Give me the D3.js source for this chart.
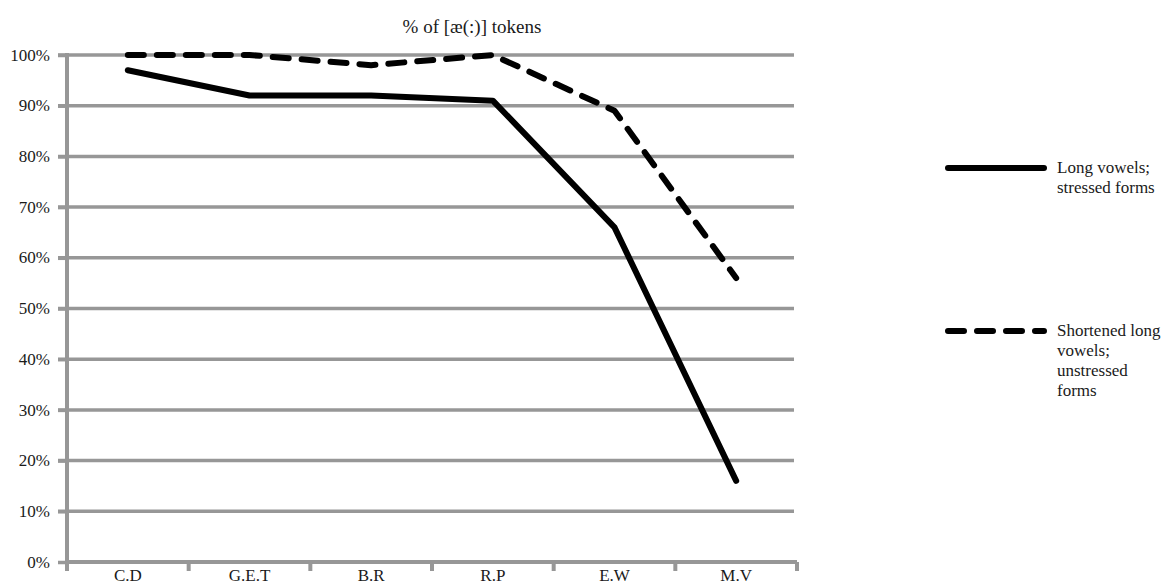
<!DOCTYPE html>
<html><head><meta charset="utf-8">
<script src="https://cdn.jsdelivr.net/npm/d3@7"></script>
<style>body{margin:0;background:#fff}svg{display:block}text{font-family:"Liberation Serif","DejaVu Serif",serif}</style>
</head><body><svg id="c" width="1164" height="586"></svg>
<script>
const categories = ["C.D","G.E.T","B.R","R.P","E.W","M.V"];
const longStressed = [97, 92, 92, 91, 66, 16];
const shortUnstressed = [100, 100, 98, 100, 89, 56];
const yTicks = [0,10,20,30,40,50,60,70,80,90,100];
const seriesNames = [["Long vowels;","stressed forms"],["Shortened long","vowels;","unstressed","forms"]];

const svg = d3.select("#c");
const x = d3.scaleBand().domain(categories).range([67, 797]);
const y = d3.scaleLinear().domain([0,100]).range([562, 55]);
const grey = "#979797";
const txt = "#1a1a1a";

// gridlines
svg.append("g").selectAll("line").data(yTicks.filter(d=>d>0)).join("line")
  .attr("x1", 58).attr("x2", 794).attr("y1", d=>y(d)).attr("y2", d=>y(d))
  .attr("stroke", grey).attr("stroke-width", 3.5);

// y axis
const ya = svg.append("g").attr("transform","translate(67,0)").call(d3.axisLeft(y).tickValues(yTicks).tickFormat(d=>d+"%").tickSize(9).tickPadding(8));
ya.select(".domain").attr("stroke", grey).attr("stroke-width", 4).attr("d", `M0,${y(100)-2}V${y(0)+2}`);
ya.selectAll(".tick line").attr("stroke", grey).attr("stroke-width", 3.5);
ya.selectAll(".tick text").attr("font-size", 17).attr("fill",txt).attr("font-family","Liberation Serif, serif").attr("dy","0.3em");

// x axis
const xa = svg.append("g").attr("transform",`translate(0,${y(0)})`).call(d3.axisBottom(x).tickSize(0).tickPadding(0));
xa.select(".domain").attr("stroke", grey).attr("stroke-width", 4).attr("d", `M67,0H797`);
xa.selectAll(".tick text").attr("font-size", 17).attr("fill",txt).attr("font-family","Liberation Serif, serif")
  .attr("y", 19).attr("dy", 0);
const edges = categories.map(c=>x(c)).concat([x(categories[categories.length-1])+x.bandwidth()]);
svg.append("g").selectAll("line").data(edges).join("line")
  .attr("x1", d=>d).attr("x2", d=>d).attr("y1", y(0)).attr("y2", y(0)+9)
  .attr("stroke", grey).attr("stroke-width", 4);

// lines
const line = d3.line().x((d,i)=>x(categories[i])+x.bandwidth()/2).y(d=>y(d));
svg.append("path").datum(shortUnstressed).attr("d", line).attr("fill","none").attr("stroke","#000")
  .attr("stroke-width",6).attr("stroke-linecap","round").attr("stroke-linejoin","round").attr("stroke-dasharray","16,13");
svg.append("path").datum(longStressed).attr("d", line).attr("fill","none").attr("stroke","#000")
  .attr("stroke-width",6).attr("stroke-linecap","round").attr("stroke-linejoin","round");

// title
svg.append("text").attr("x", 472).attr("y", 33).attr("text-anchor","middle").attr("font-size",19).attr("fill",txt).text("% of [æ(:)] tokens");

// legend
const lg = svg.append("g");
const legY = [168, 331];
const dashes = [null, "16,13"];
seriesNames.forEach((names,k)=>{
  lg.append("line").attr("x1",948).attr("x2",1044).attr("y1",legY[k]).attr("y2",legY[k])
    .attr("stroke","#000").attr("stroke-width",6).attr("stroke-linecap","round").attr("stroke-dasharray",dashes[k]);
  names.forEach((t,j)=>{
    lg.append("text").attr("x",1057).attr("y",legY[k]+5+j*20).attr("font-size",17).attr("fill",txt).text(t);
  });
});
</script></body></html>
